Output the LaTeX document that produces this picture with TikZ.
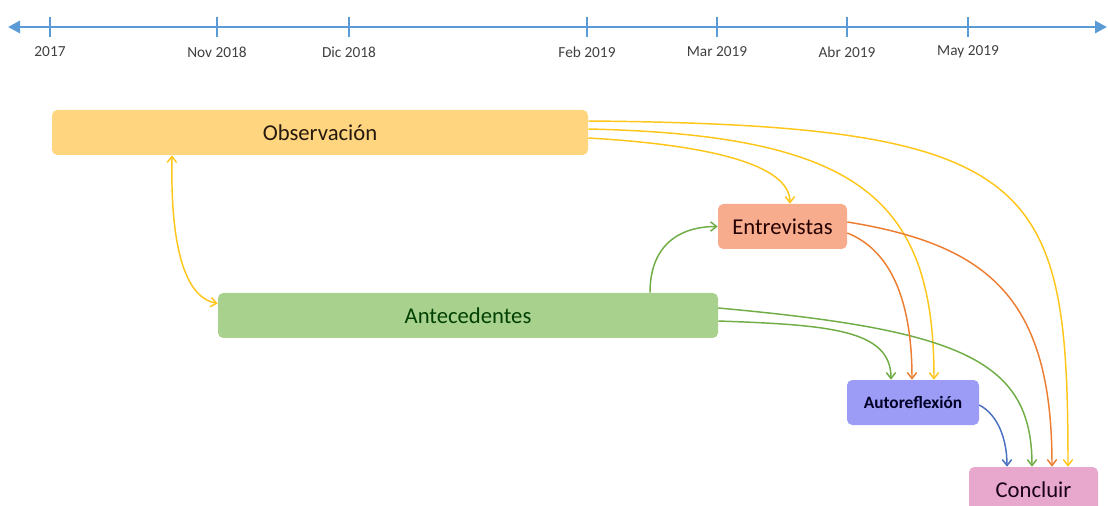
\documentclass[tikz,border=0pt]{standalone}
\usepackage{fontspec}
\setmainfont{Carlito}
\usetikzlibrary{positioning,arrows.meta,calc}
\definecolor{axisblue}{HTML}{5B9BD5}
\definecolor{datetext}{HTML}{404040}
\definecolor{obsfill}{HTML}{FFD580}
\definecolor{entfill}{HTML}{F7AC8E}
\definecolor{antfill}{HTML}{A9D18E}
\definecolor{autfill}{HTML}{9C9CF6}
\definecolor{confill}{HTML}{E8A7CC}
\definecolor{cyellow}{HTML}{FFC61A}
\definecolor{cgreen}{HTML}{70AD47}
\definecolor{corange}{HTML}{ED7D31}
\definecolor{cblue}{HTML}{4A70C0}

\begin{document}
\begin{tikzpicture}[
  x=0.75pt, y=-0.75pt,
  font=\fontsize{17}{20}\selectfont,
  box/.style={rounded corners=4pt, minimum height=33.75pt, inner sep=2pt},
  date/.style={font=\fontsize{11.5}{13}\selectfont\color{datetext}},
  axis/.style={{Triangle[length=9pt,width=9pt]}-{Triangle[length=9pt,width=9pt]},
               line width=2.2pt, draw=axisblue},
  tick/.style={line width=1.4pt, draw=axisblue},
  link/.style={-{Straight Barb[length=4.5pt,width=7pt]}, line width=1.1pt},
  twoway/.style={{Straight Barb[length=4.5pt,width=7pt]}-{Straight Barb[length=4.5pt,width=7pt]},
                 line width=1.1pt},
]
\useasboundingbox (0,0) rectangle (1108,506);

% ---- Timeline ---------------------------------------------------------------
\coordinate (tlwest) at (8,27);
\coordinate (tleast) at (1107,27);
\draw[axis] (tlwest) -- (tleast);
\foreach \x/\lab [count=\i] in {50/2017, 217/Nov 2018, 349/Dic 2018,
    587/Feb 2019, 717/Mar 2019, 847/Abr 2019, 968/May 2019} {
  \draw[tick] (\x,17) -- (\x,37);
  \node[date] (date\i) at (\x,52) {\lab};
}

% ---- Boxes ------------------------------------------------------------------
\node[box, fill=obsfill, minimum width=402pt, text=black!80!brown]
  (obs) at (320,132.5) {Observación};
\node[box, fill=entfill, minimum width=96.75pt, text=black!85!red]
  (ent) at (782.5,226.5) {Entrevistas};
\node[box, fill=antfill, minimum width=375pt, text=black!75!green]
  (ante) at (468,315.5) {Antecedentes};
\node[box, fill=autfill, minimum width=99pt, text=black!85!blue,
      font=\fontsize{13}{15}\selectfont\bfseries]
  (aut) at (913,402.5) {Autoreflexión};
\node[box, fill=confill, minimum width=96.75pt, text=black!80!violet]
  (con) at (1033.5,489.5) {Concluir};

% ---- Arrows -----------------------------------------------------------------
\draw[twoway, cyellow] ($(obs.south)+(-148,0)$)
  .. controls +(-2,105) and +(-28,-5) .. ($(ante.west)+(0,-12)$);
\draw[link, cyellow] ($(obs.east)+(0,5.5)$)
  .. controls +(122,7) and +(0,-39) .. ($(ent.north)+(7.5,0)$);
\draw[link, cyellow] ($(obs.east)+(0,-3.5)$)
  .. controls +(272,6) and +(0,-180) .. ($(aut.north)+(21,0)$);
\draw[link, cyellow] ($(obs.east)+(0,-11.5)$)
  .. controls +(452,4) and +(0,-287) .. ($(con.north)+(34.5,0)$);
\draw[link, cgreen] ($(ante.north)+(182,0)$)
  .. controls +(0,-48) and +(-38,0) .. (ent.west);
\draw[link, cgreen] ($(ante.east)+(0,5.5)$)
  .. controls +(112,4) and +(0,-50) .. ($(aut.north)+(-22,0)$);
\draw[link, cgreen] ($(ante.east)+(0,-7.5)$)
  .. controls +(242,22) and +(0,-107) .. ($(con.north)+(-1.5,0)$);
\draw[link, corange] ($(ent.east)+(0,-4.5)$)
  .. controls +(143,23) and +(0,-167) .. ($(con.north)+(18.5,0)$);
\draw[link, corange] ($(ent.east)+(0,6.5)$)
  .. controls +(43,17) and +(0,-80) .. ($(aut.north)+(-1,0)$);
\draw[link, cblue] ($(aut.east)+(0,2.5)$)
  .. controls +(19,10) and +(0,-27) .. ($(con.north)+(-26.5,0)$);

\end{tikzpicture}
\end{document}
